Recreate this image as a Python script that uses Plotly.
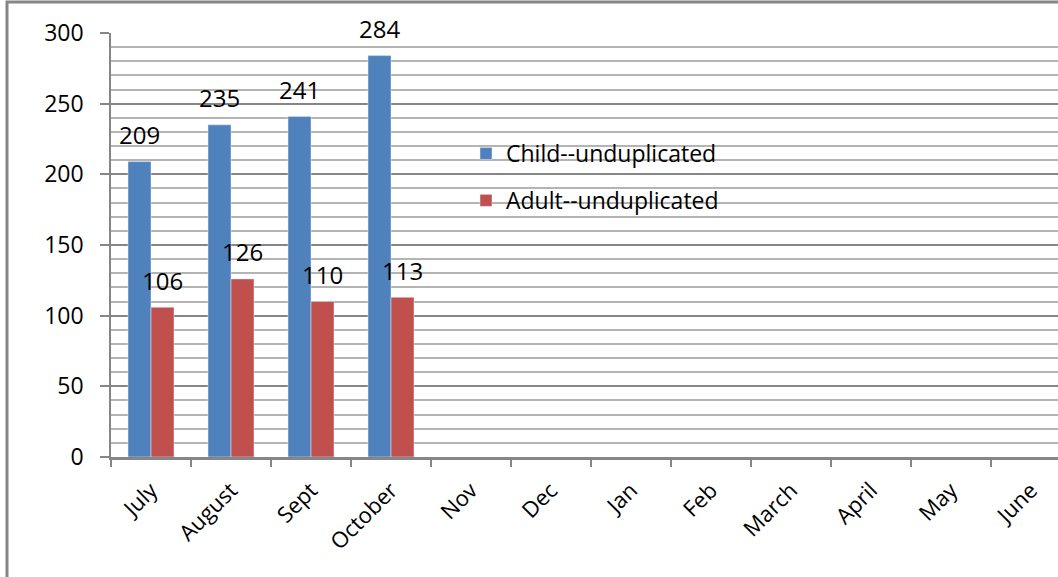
import plotly.graph_objects as go

months = ["July", "August", "Sept", "October", "Nov", "Dec", "Jan", "Feb",
          "March", "April", "May", "June"]
child = [209, 235, 241, 284]
adult = [106, 126, 110, 113]

BLUE = "#4F81BD"
RED = "#C0504D"
FONT = "Open Sans, Noto Sans, sans-serif"

W, H = 1058, 577
L, T, B, R = 111, 33, 120, 0
plot_w = W - L - R
plot_h = H - T - B
cat_px = 80.0

fig = go.Figure()
fig.add_trace(go.Bar(x=months[:len(child)], y=child, name="Child--unduplicated",
                     marker_color=BLUE, legendgroup="c"))
fig.add_trace(go.Bar(x=months[:len(adult)], y=adult, name="Adult--unduplicated",
                     marker_color=RED, legendgroup="a"))

# value labels above each bar
bar_px = cat_px * (1 - 0.425) / 2
for vals, dx in ((child, -bar_px / 2), (adult, bar_px / 2)):
    for m, v in zip(months, vals):
        fig.add_annotation(x=m, y=v, text=str(v), showarrow=False,
                           xshift=dx, yshift=27, yanchor="middle",
                           font=dict(family=FONT, size=24, color="#000"))

# outer chart frame
def px_to_paper_x(p):
    return (p - L) / plot_w

def px_to_paper_y(p):
    return (H - B - p) / plot_h

fig.add_shape(type="rect", xref="paper", yref="paper",
              x0=px_to_paper_x(7), x1=px_to_paper_x(W + 20),
              y0=px_to_paper_y(H + 20), y1=px_to_paper_y(2),
              line=dict(color="#868686", width=3), layer="above")

fig.update_layout(
    width=W, height=H,
    margin=dict(l=L, r=R, t=T, b=B),
    paper_bgcolor="white", plot_bgcolor="white",
    barmode="group", bargap=0.425, bargroupgap=0,
    showlegend=True,
    legend=dict(x=px_to_paper_x(466), y=px_to_paper_y(132), xanchor="left", yanchor="top",
                font=dict(family=FONT, size=23, color="#000"),
                traceorder="grouped", tracegroupgap=14, bgcolor="rgba(0,0,0,0)"),
    xaxis=dict(
        categoryorder="array", categoryarray=months,
        range=[-0.5, -0.5 + plot_w / cat_px],
        tickmode="array", tickvals=months, ticktext=months,
        tickangle=-45, tickson="boundaries",
        ticks="outside", ticklen=7, tickcolor="#868686", tickwidth=1.5,
        showline=True, linecolor="#868686", linewidth=2.5,
        ticklabelstandoff=9,
        tickfont=dict(family=FONT, size=22, color="#000"),
        showgrid=False,
    ),
    yaxis=dict(
        range=[0, 300], dtick=50, tick0=0,
        ticks="outside", ticklen=9, tickcolor="#868686", tickwidth=2,
        showline=True, linecolor="#868686", linewidth=1.5,
        showgrid=True, gridcolor="#868686", gridwidth=2,
        zeroline=False,
        ticklabelstandoff=12,
        tickfont=dict(family=FONT, size=23, color="#000"),
        minor=dict(dtick=10, showgrid=True, gridcolor="#b4b4b4", gridwidth=1.5),
    ),
    font=dict(family=FONT, color="#000"),
)

fig.write_html("out.html")
